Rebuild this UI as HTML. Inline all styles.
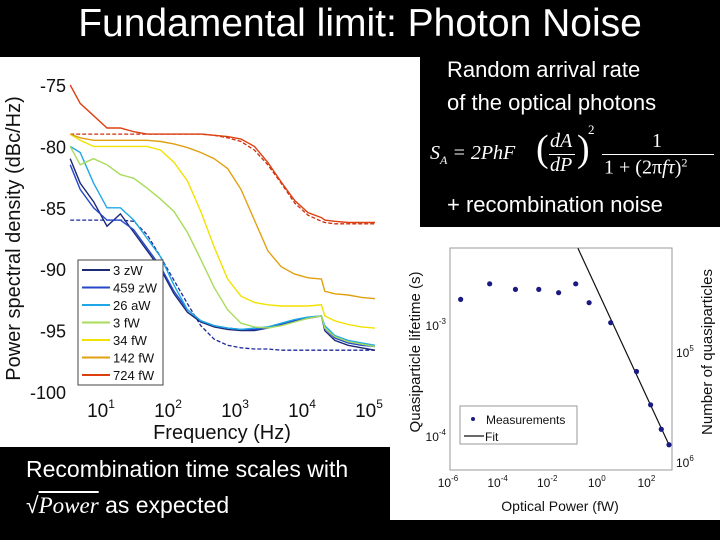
<!DOCTYPE html>
<html><head><meta charset="utf-8"><style>
html,body{margin:0;padding:0;background:#000;}
#slide{position:relative;width:720px;height:540px;background:#000;overflow:hidden;font-family:"Liberation Sans",sans-serif;}
.t{position:absolute;color:#fff;white-space:nowrap;}
</style></head><body>
<div id="slide">
<div class="t" style="left:0;width:720px;text-align:center;top:2px;font-size:39px;">Fundamental limit: Photon Noise</div>
<svg id="left" width="420" height="390" style="position:absolute;left:0;top:57px;background:#fff"></svg>
<svg id="right" width="330" height="293" style="position:absolute;left:390px;top:227px;background:#fff"></svg>
<div class="t" style="left:447px;top:57px;font-size:22px;">Random arrival rate</div>
<div class="t" style="left:447px;top:90px;font-size:22px;">of the optical photons</div>
<div class="t" style="left:430px;top:130px;font-size:20px;font-family:'Liberation Serif',serif;font-style:italic;">
<span style="position:absolute;left:0;top:12px">S<sub style="font-size:12px">A</sub> = 2PhF</span>
<span style="position:absolute;left:106px;top:0px;font-size:38px;font-style:normal;line-height:1">(</span>
<span style="position:absolute;left:120px;top:0px">dA</span>
<span style="position:absolute;left:119px;top:24px;width:26px;border-top:1px solid #fff"></span>
<span style="position:absolute;left:120px;top:24px">dP</span>
<span style="position:absolute;left:147px;top:0px;font-size:38px;font-style:normal;line-height:1">)</span>
<span style="position:absolute;left:158px;top:-8px;font-size:13px;font-style:normal">2</span>
<span style="position:absolute;left:222px;top:0px;font-style:normal">1</span>
<span style="position:absolute;left:172px;top:24px;width:112px;border-top:1px solid #fff"></span>
<span style="position:absolute;left:174px;top:25px"><span style="font-style:normal">1 + (2π</span>fτ<span style="font-style:normal">)<sup style="font-size:12px">2</sup></span></span>
</div>
<div class="t" style="left:447px;top:192px;font-size:22px;">+ recombination noise</div>
<div class="t" style="left:26px;top:456px;font-size:23px;">Recombination time scales with</div>
<div class="t" style="left:26px;top:492px;font-size:23px;">√<i style="font-family:'Liberation Serif',serif;text-decoration:overline">Power</i> as expected</div>
</div>
<script>
const NS='http://www.w3.org/2000/svg';
function mk(p,tag,at,txt){const e=document.createElementNS(NS,tag);for(const k in at)e.setAttribute(k,at[k]);if(txt!==undefined)e.textContent=txt;p.appendChild(e);return e;}
// ---- Left chart data ----
const logFreq=[0.45,0.6,0.8,1.0,1.2,1.4,1.6,1.8,2.0,2.2,2.4,2.6,2.8,3.0,3.2,3.4,3.6,3.8,4.0,4.2,4.25,4.4,4.6,4.8,5.0];
const seriesNames=['3 zW','459 zW','26 aW','3 fW','34 fW','142 fW','724 fW'];
const seriesColors=['#1c2a78','#2448c8','#1ea8e8','#a8dc5a','#f2e200','#e0a010','#dc4010'];
const s3zW  =[-81,-83,-84.5,-86.5,-85.5,-87,-88.5,-90,-92,-93.5,-94.3,-94.7,-94.9,-95,-95,-94.8,-94.5,-94.2,-94,-93.8,-95,-95.8,-96.2,-96.4,-96.6];
const s459zW=[-81.5,-83.5,-85,-86,-86,-86.8,-88.3,-89.8,-91.8,-93.3,-94.2,-94.6,-94.8,-94.9,-94.9,-94.8,-94.5,-94.2,-94,-93.8,-94.8,-95.6,-96,-96.2,-96.3];
const s26aW =[-80,-80.5,-83,-85,-85,-86,-87.5,-89,-91.3,-93.3,-94.2,-94.6,-94.8,-94.9,-94.8,-94.7,-94.4,-94.1,-93.9,-93.8,-94.6,-95.4,-95.8,-96,-96.2];
const s3fW  =[-80,-81.5,-81,-81.5,-82.3,-82.6,-83.4,-84.3,-85.3,-87,-89.2,-91.5,-93.3,-94.4,-94.7,-94.8,-94.6,-94.3,-94,-93.8,-94.8,-95.5,-95.9,-96.1,-96.3];
const s34fW =[-79,-79.5,-80,-80,-80,-80,-80,-80.3,-81.3,-82.8,-85.3,-88.2,-90.8,-92.2,-92.7,-92.9,-93,-93,-93,-92.9,-93.8,-94.2,-94.5,-94.7,-94.8];
const s142fW=[-79,-79.3,-79.5,-79.5,-79.5,-79.5,-79.5,-79.6,-79.8,-80.1,-80.5,-81,-81.8,-83.5,-86,-88.5,-89.8,-90.4,-90.7,-90.8,-91.8,-92,-92.1,-92.3,-92.4];
const s724fW=[-75,-76.5,-77.5,-78.5,-78.5,-78.8,-79,-79,-79,-79,-79,-79.1,-79.2,-79.4,-80,-81.3,-82.9,-84.4,-85.4,-85.8,-86,-86.1,-86.2,-86.2,-86.2];
const fitLow=[-86,-86,-86,-86,-86,-86.1,-87.2,-89,-90.9,-92.8,-94.6,-95.7,-96.2,-96.4,-96.5,-96.5,-96.6,-96.6,-96.6,-96.6,-96.6,-96.6,-96.6,-96.6,-96.6];
const fitHigh=[-79,-79,-79,-79,-79,-79,-79,-79,-79,-79,-79,-79.1,-79.3,-79.6,-80.3,-81.5,-83,-84.6,-85.6,-86.1,-86.2,-86.3,-86.3,-86.3,-86.3];
const yTicksL=[-75,-80,-85,-90,-95,-100];
const xTicksL=[1,2,3,4,5];
const allSeries=[s3zW,s459zW,s26aW,s3fW,s34fW,s142fW,s724fW];
// ---- Right chart data ----
const powerLog=[-5.49,-4.32,-3.28,-2.34,-1.54,-0.85,-0.31,0.56,1.6,2.17,2.6,2.91];
const lifetimeLog=[-2.76,-2.62,-2.67,-2.67,-2.70,-2.62,-2.79,-2.97,-3.41,-3.71,-3.93,-4.07];
const fitPowerLog=[-0.76,2.91];
const fitLifetimeLog=[-2.30,-4.07];
const xTicksR=[-6,-4,-2,0,2];
const yTicksR=[-3,-4];

const L=document.getElementById('left');
const lx=v=>107+(v-1)*67, ly=v=>(85-57)+(-75-v)*(307/25);
for(const t of yTicksL){
  const tl=mk(L,'text',{x:66,y:ly(t)+7,'text-anchor':'end','font-size':18,fill:'#111'},String(t));
  
}
for(const t of xTicksL){
  const g=mk(L,'text',{x:lx(t)-6,y:ly(-100)+25,'text-anchor':'middle','font-size':19,fill:'#111'});
  
  g.textContent='10';mk(g,'tspan',{dy:-9,'font-size':12},String(t));
}
const xl=mk(L,'text',{x:222,y:ly(-100)+47,'text-anchor':'middle','font-size':20,fill:'#111'},'Frequency (Hz)');

const yl=mk(L,'text',{x:0,y:0,transform:'translate(20,'+ly(-87.5)+') rotate(-90)','text-anchor':'middle','font-size':20,fill:'#111'},'Power spectral density (dBc/Hz)');

function path(xs,ys,fx,fy){return xs.map((x,i)=>(i?'L':'M')+fx(x).toFixed(1)+','+fy(ys[i]).toFixed(1)).join(' ');}
const fl=mk(L,'path',{d:path(logFreq,fitLow,lx,ly),fill:'none',stroke:'#1c2a98','stroke-width':1.3,'stroke-dasharray':'4,2'});

const fh=mk(L,'path',{d:path(logFreq,fitHigh,lx,ly),fill:'none',stroke:'#cc3010','stroke-width':1.3,'stroke-dasharray':'4,2'});

allSeries.forEach((s,i)=>{
  const p=mk(L,'path',{d:path(logFreq,s,lx,ly),fill:'none',stroke:seriesColors[i],'stroke-width':1.4});
  
  
});
const lg=mk(L,'g',{});

mk(lg,'rect',{x:78,y:260-57,width:85,height:125,fill:'#fff',stroke:'#444','stroke-width':1});
seriesNames.forEach((n,i)=>{
  const y=260-57+10+i*17.5;
  const e=mk(lg,'g',{});
  
  mk(e,'line',{x1:82,x2:110,y1:y,y2:y,stroke:seriesColors[i],'stroke-width':2});
  mk(e,'text',{x:113,y:y+5,'font-size':13,fill:'#111'},n);
});

const R=document.getElementById('right');
const rx=v=>(448-390)+(v+6)*24.8, ry=v=>(326-227)+(-3-v)*111;
mk(R,'rect',{x:60,y:21,width:222,height:222,fill:'none',stroke:'#999','stroke-width':1});
for(const t of xTicksR){
  const g=mk(R,'text',{x:rx(t),y:260,'text-anchor':'middle','font-size':12,fill:'#111'});
  
  g.textContent='10';mk(g,'tspan',{dy:-6,'font-size':8},String(t));
}
for(const t of yTicksR){
  const g=mk(R,'text',{x:56,y:ry(t)+4,'text-anchor':'end','font-size':12,fill:'#111'});
  
  g.textContent='10';mk(g,'tspan',{dy:-6,'font-size':8},String(t));
}
[['5',130],['6',240]].forEach(([e,y])=>{
  const g=mk(R,'text',{x:286,y:y,'font-size':12,fill:'#111'});
  
  g.textContent='10';mk(g,'tspan',{dy:-6,'font-size':8},e);
});
const rxl=mk(R,'text',{x:170,y:284,'text-anchor':'middle','font-size':14,fill:'#111'},'Optical Power (fW)');

const ryl=mk(R,'text',{x:0,y:0,transform:'translate(30,125) rotate(-90)','text-anchor':'middle','font-size':15,fill:'#111'},'Quasiparticle lifetime (s)');

const ryr=mk(R,'text',{x:0,y:0,transform:'translate(322,125) rotate(-90)','text-anchor':'middle','font-size':15,fill:'#111'},'Number of quasiparticles');

const fit=mk(R,'line',{x1:rx(fitPowerLog[0]),y1:ry(fitLifetimeLog[0]),x2:rx(fitPowerLog[1]),y2:ry(fitLifetimeLog[1]),stroke:'#111','stroke-width':1.2});

powerLog.forEach((p,i)=>{
  const c=mk(R,'circle',{cx:rx(p),cy:ry(lifetimeLog[i]),r:2.6,fill:'#1a1a80'});
  
});
const rl=mk(R,'g',{});

mk(rl,'rect',{x:70,y:179,width:117,height:38,fill:'#fff',stroke:'#999'});
mk(rl,'circle',{cx:83,cy:192,r:2,fill:'#1a1a80'});
mk(rl,'text',{x:96,y:197,'font-size':12,fill:'#111'},'Measurements');
mk(rl,'line',{x1:74,x2:94,y1:209,y2:209,stroke:'#111','stroke-width':1.2});
mk(rl,'text',{x:95,y:214,'font-size':12,fill:'#111'},'Fit');
</script>
</body></html>
